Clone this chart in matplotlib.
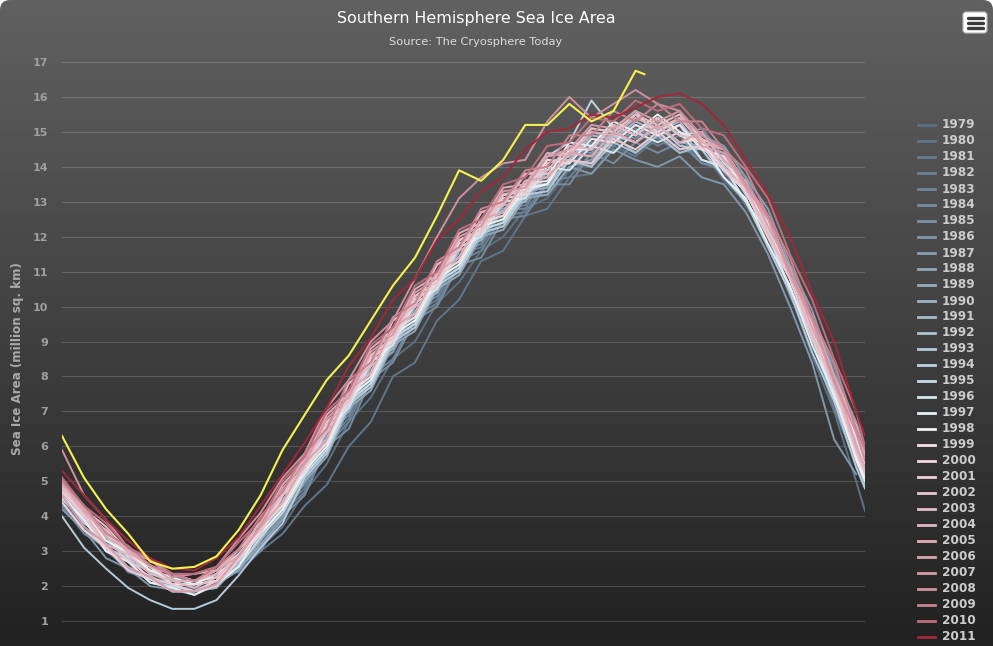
import numpy as np
import matplotlib
matplotlib.use("Agg")
import matplotlib.pyplot as plt
from matplotlib.colors import LinearSegmentedColormap
from matplotlib.lines import Line2D
from matplotlib.patches import FancyBboxPatch

nan = np.nan

# day of year for each sample (10-day steps)
DAYS = [0, 10, 20, 30, 40, 50, 60, 70, 80, 90,
        100, 110, 120, 130, 140, 150, 160, 170, 180, 190,
        200, 210, 220, 230, 240, 250, 260, 270, 280, 290,
        300, 310, 320, 330, 340, 350, 360, 364]
DAYS_2012 = [0, 10, 20, 30, 40, 50, 60, 70, 80, 90,
             100, 110, 120, 130, 140, 150, 160, 170, 180, 190,
             200, 210, 220, 230, 240, 250, 260, 264]

# sea ice area, million sq. km
AREA_1979 = [4.4, 3.7, 3.0, 2.5, 2.2, 1.95, 1.9, 2.05, 2.5, 3.1,
             3.7, 4.7, 5.5, 6.7, 7.4, 8.5, 9.0, 10.1, 10.7, 11.6,
             12.0, 12.8, 13.1, 13.9, 14.1, 14.6, 14.3, 14.8, 14.4, 14.5,
             13.6, 13.0, 11.7, 10.4, 8.6, 7.0, 5.0, 4.15]
AREA_1980 = [4.9, 4.2, 3.3, 3.0, 2.4, 2.3, 2.1, 2.3, 2.4, 3.0,
             3.5, 4.3, 4.9, 6.0, 6.7, 8.0, 8.4, 9.6, 10.2, 11.3,
             11.6, 12.6, 12.8, 13.7, 13.8, 14.6, 14.3, 14.9, 14.5, 14.6,
             13.8, 13.4, 12.0, 10.8, 9.1, 7.7, 5.7, 5.0]
AREA_1981 = [4.7, 3.8, 3.3, 2.7, 2.4, 2.0, 2.05, 2.1, 2.7, 3.1,
             4.2, 4.8, 6.1, 6.8, 8.1, 8.7, 9.8, 10.2, 11.5, 11.7,
             12.8, 12.9, 13.8, 13.9, 14.8, 14.7, 15.3, 14.9, 15.2, 14.6,
             14.3, 13.3, 12.4, 10.9, 9.5, 7.7, 6.3, 5.5]
AREA_1982 = [4.5, 3.6, 3.2, 2.5, 2.3, 1.95, 1.95, 2.0, 2.7, 3.1,
             4.1, 4.7, 6.0, 6.7, 8.0, 8.5, 9.7, 10.1, 11.3, 11.6,
             12.6, 12.7, 13.6, 13.7, 14.4, 14.4, 15.0, 14.6, 14.9, 14.1,
             13.9, 12.9, 12.0, 10.3, 9.0, 7.1, 5.5, 4.8]
AREA_1983 = [5.0, 4.1, 3.6, 2.9, 2.6, 2.15, 2.15, 2.25, 3.0, 3.3,
             4.3, 4.9, 6.3, 6.9, 8.2, 8.8, 9.9, 10.3, 11.5, 11.8,
             12.8, 12.8, 13.9, 13.9, 14.7, 14.6, 15.1, 14.8, 15.2, 14.6,
             14.4, 13.4, 12.6, 11.0, 9.7, 7.9, 6.4, 5.6]
AREA_1984 = [4.3, 3.5, 3.1, 2.4, 2.2, 1.85, 1.85, 1.95, 2.6, 3.0,
             4.0, 4.6, 6.0, 6.5, 7.9, 8.4, 9.6, 10.0, 11.2, 11.4,
             12.5, 12.6, 13.5, 13.5, 14.4, 14.1, 14.7, 14.4, 14.7, 14.1,
             14.0, 13.0, 12.1, 10.5, 9.2, 7.3, 5.8, 5.0]
AREA_1985 = [4.8, 4.1, 3.3, 2.9, 2.35, 2.15, 1.95, 2.3, 2.75, 3.7,
             4.4, 5.6, 6.2, 7.6, 8.1, 9.4, 9.8, 11.0, 11.4, 12.5,
             12.7, 13.6, 13.7, 14.5, 14.4, 15.1, 14.8, 15.3, 14.9, 15.1,
             14.3, 13.7, 12.4, 11.2, 9.6, 8.3, 6.4, 5.8]
AREA_1986 = [4.2, 3.6, 2.8, 2.5, 2.0, 1.9, 1.75, 2.05, 2.45, 3.3,
             4.0, 5.1, 5.8, 7.2, 7.7, 9.0, 9.4, 10.6, 11.0, 12.1,
             12.3, 13.2, 13.2, 14.0, 13.8, 14.5, 14.2, 14.0, 14.3, 13.7,
             13.5, 12.7, 11.5, 10.0, 8.4, 6.2, 5.2, nan]
AREA_1987 = [4.9, 4.0, 3.5, 2.8, 2.55, 2.15, 2.15, 2.25, 2.9, 3.4,
             4.5, 5.1, 6.4, 7.0, 8.3, 8.7, 10.0, 10.4, 11.6, 11.9,
             12.8, 13.0, 13.9, 14.1, 15.0, 14.8, 15.5, 15.0, 15.4, 14.9,
             14.6, 13.7, 12.8, 11.2, 9.9, 8.1, 6.7, 5.9]
AREA_1988 = [4.6, 3.9, 3.0, 2.7, 2.1, 1.95, 1.75, 2.05, 2.45, 3.2,
             3.9, 5.0, 5.7, 7.1, 7.6, 8.9, 9.3, 10.5, 10.9, 12.0,
             12.2, 13.1, 13.2, 14.0, 14.2, 14.9, 14.7, 15.1, 14.7, 14.6,
             13.9, 13.3, 12.0, 10.8, 9.1, 7.6, 5.7, 5.1]
AREA_1989 = [4.7, 4.0, 3.2, 2.9, 2.4, 2.2, 2.05, 2.35, 2.75, 3.5,
             4.1, 5.2, 5.9, 7.2, 7.8, 9.1, 9.5, 10.7, 11.1, 12.2,
             12.4, 13.3, 13.4, 14.2, 14.0, 14.9, 14.4, 15.0, 14.5, 14.7,
             14.0, 13.4, 12.1, 10.9, 9.2, 7.9, 6.0, 5.4]
AREA_1990 = [4.4, 3.6, 3.2, 2.5, 2.3, 1.85, 1.85, 1.95, 2.6, 3.3,
             4.4, 5.1, 6.4, 7.0, 8.3, 8.8, 10.0, 10.4, 11.6, 11.9,
             12.9, 13.0, 13.9, 14.1, 14.8, 14.7, 15.2, 14.9, 15.2, 14.2,
             14.0, 13.0, 12.1, 10.4, 9.1, 7.3, 5.7, 4.9]
AREA_1991 = [4.8, 3.9, 3.45, 2.8, 2.45, 2.05, 2.05, 2.15, 2.85, 3.6,
             4.7, 5.4, 6.7, 7.3, 8.6, 9.1, 10.3, 10.7, 11.9, 12.2,
             13.2, 13.3, 14.2, 14.2, 14.9, 14.8, 15.3, 15.0, 15.3, 14.5,
             14.3, 13.3, 12.4, 10.8, 9.5, 7.7, 6.1, 5.3]
AREA_1992 = [4.5, 3.9, 3.1, 2.8, 2.2, 2.05, 1.85, 2.15, 2.65, 3.6,
             4.3, 5.4, 6.1, 7.5, 8.0, 9.3, 9.7, 10.9, 11.3, 12.4,
             12.6, 13.5, 13.5, 14.2, 14.0, 14.7, 14.4, 14.9, 14.4, 14.6,
             13.9, 13.3, 12.0, 10.8, 9.1, 7.6, 5.7, 5.0]
AREA_1993 = [4.0, 3.1, 2.5, 1.95, 1.6, 1.35, 1.35, 1.6, 2.3, 3.1,
             3.8, 5.1, 5.8, 7.2, 7.7, 9.0, 9.4, 10.6, 11.0, 12.1,
             12.3, 13.2, 13.3, 14.2, 14.1, 14.9, 14.7, 15.2, 14.6, 14.5,
             13.7, 13.0, 11.7, 10.4, 8.7, 7.3, 5.4, 4.8]
AREA_1994 = [4.6, 3.8, 3.4, 2.7, 2.45, 2.05, 2.05, 2.15, 2.85, 3.5,
             4.6, 5.3, 6.6, 7.2, 8.5, 9.0, 10.2, 10.6, 11.8, 12.2,
             13.2, 13.4, 14.3, 14.7, 15.9, 15.1, 15.6, 14.9, 15.2, 14.5,
             14.2, 13.2, 12.4, 10.8, 9.5, 7.7, 6.2, 5.4]
AREA_1995 = [4.5, 3.9, 3.0, 2.7, 2.1, 2.0, 1.85, 2.15, 2.55, 3.4,
             4.1, 5.2, 5.9, 7.3, 7.8, 9.1, 9.5, 10.7, 11.1, 12.2,
             12.4, 13.3, 13.5, 14.5, 14.5, 15.2, 14.9, 15.4, 14.9, 15.0,
             14.1, 13.5, 12.2, 11.0, 9.3, 7.8, 5.9, 5.3]
AREA_1996 = [4.8, 4.0, 3.5, 2.85, 2.55, 2.15, 2.15, 2.25, 2.9, 3.5,
             4.6, 5.2, 6.5, 7.1, 8.4, 8.9, 10.1, 10.5, 11.7, 12.0,
             13.0, 13.1, 14.0, 13.9, 14.6, 14.4, 15.0, 14.7, 15.0, 14.2,
             14.0, 13.0, 12.1, 10.5, 9.2, 7.4, 6.0, 5.2]
AREA_1997 = [4.6, 3.9, 3.0, 2.7, 2.1, 1.95, 1.75, 2.05, 2.55, 3.6,
             4.4, 5.5, 6.2, 7.6, 8.1, 9.4, 9.8, 11.0, 11.4, 12.5,
             12.7, 13.6, 13.7, 14.7, 14.6, 15.3, 15.0, 15.5, 15.0, 14.7,
             13.7, 13.1, 11.8, 10.6, 8.9, 7.5, 5.6, 5.0]
AREA_1998 = [4.7, 4.1, 3.3, 2.95, 2.45, 2.25, 2.05, 2.35, 2.75, 3.5,
             4.2, 5.3, 6.0, 7.4, 7.9, 9.2, 9.6, 10.8, 11.2, 12.3,
             12.5, 13.4, 13.5, 14.5, 14.5, 15.2, 14.9, 15.4, 14.9, 14.7,
             13.9, 13.3, 12.0, 10.8, 9.1, 7.7, 5.7, 5.1]
AREA_1999 = [4.9, 4.0, 3.6, 2.9, 2.55, 2.05, 2.05, 2.15, 2.85, 3.6,
             4.7, 5.4, 6.7, 7.3, 8.6, 9.1, 10.3, 10.7, 11.9, 12.2,
             13.2, 13.3, 14.2, 14.1, 14.8, 14.7, 15.2, 14.9, 15.2, 14.5,
             14.3, 13.3, 12.4, 10.8, 9.5, 7.8, 6.3, 5.5]
AREA_2000 = [5.0, 4.3, 3.5, 3.05, 2.55, 2.35, 2.15, 2.45, 2.9, 3.7,
             4.3, 5.4, 6.1, 7.5, 8.0, 9.3, 9.7, 10.9, 11.3, 12.4,
             12.6, 13.5, 13.6, 14.4, 14.3, 15.0, 14.7, 15.2, 14.7, 14.8,
             14.0, 13.4, 12.1, 10.9, 9.2, 7.8, 5.9, 5.3]
AREA_2001 = [4.4, 3.6, 3.1, 2.45, 2.2, 1.85, 1.85, 2.0, 2.75, 3.5,
             4.6, 5.3, 6.6, 7.2, 8.5, 9.0, 10.2, 10.6, 11.8, 12.1,
             13.1, 13.2, 14.1, 14.3, 15.1, 15.0, 15.5, 15.0, 15.4, 14.7,
             14.5, 13.5, 12.6, 11.0, 9.7, 7.9, 6.4, 5.6]
AREA_2002 = [4.7, 4.0, 3.1, 2.75, 2.25, 2.05, 1.85, 2.15, 2.75, 3.9,
             4.6, 5.7, 6.4, 7.8, 8.3, 9.6, 10.0, 11.2, 11.6, 12.7,
             12.9, 13.8, 13.8, 14.2, 14.1, 14.8, 14.5, 15.0, 14.5, 14.6,
             13.9, 13.3, 12.0, 10.8, 9.1, 7.7, 5.8, 5.2]
AREA_2003 = [5.1, 4.2, 3.7, 3.0, 2.75, 2.35, 2.35, 2.45, 3.05, 3.6,
             4.7, 5.4, 6.7, 7.3, 8.6, 9.1, 10.3, 10.7, 11.9, 12.2,
             13.2, 13.3, 14.3, 14.4, 15.1, 15.0, 15.5, 15.2, 15.5, 14.8,
             14.5, 13.5, 12.6, 11.0, 9.7, 8.0, 6.5, 5.7]
AREA_2004 = [4.8, 4.1, 3.2, 2.9, 2.35, 2.15, 1.95, 2.25, 2.85, 3.9,
             4.6, 5.7, 6.4, 7.8, 8.3, 9.6, 10.0, 11.2, 11.6, 12.7,
             12.9, 13.8, 13.9, 14.6, 14.5, 15.2, 14.9, 15.4, 14.9, 14.8,
             14.0, 13.4, 12.1, 10.9, 9.2, 7.8, 5.9, 5.3]
AREA_2005 = [5.0, 4.1, 3.6, 2.95, 2.6, 2.15, 2.15, 2.35, 3.05, 3.8,
             4.9, 5.6, 6.9, 7.5, 8.8, 9.3, 10.5, 10.9, 12.1, 12.4,
             13.4, 13.5, 14.4, 14.3, 15.0, 14.9, 15.4, 15.1, 15.4, 14.7,
             14.5, 13.5, 12.6, 11.0, 9.7, 8.0, 6.6, 5.8]
AREA_2006 = [4.9, 4.2, 3.4, 3.05, 2.55, 2.35, 2.15, 2.45, 2.85, 3.7,
             4.4, 5.5, 6.2, 7.6, 8.1, 9.4, 9.8, 11.0, 11.4, 12.5,
             12.7, 13.6, 13.7, 14.4, 14.3, 15.0, 14.7, 15.2, 14.7, 15.0,
             14.2, 13.6, 12.3, 11.1, 9.4, 8.0, 6.0, 5.4]
AREA_2007 = [4.6, 3.7, 3.2, 2.55, 2.25, 1.85, 1.85, 2.05, 2.85, 3.7,
             4.8, 5.5, 6.8, 7.4, 8.7, 9.2, 10.4, 10.8, 12.0, 12.3,
             13.3, 13.4, 14.3, 14.5, 15.2, 15.1, 15.6, 15.3, 15.6, 14.6,
             14.4, 13.4, 12.5, 10.9, 9.6, 7.8, 6.4, 5.6]
AREA_2008 = [5.9, 4.6, 3.9, 3.1, 2.75, 2.25, 2.35, 2.55, 3.35, 4.1,
             5.1, 5.8, 7.1, 7.9, 9.0, 9.6, 10.8, 12.0, 13.1, 13.7,
             14.1, 14.2, 15.3, 16.0, 15.4, 15.8, 16.2, 15.8, 15.6, 14.9,
             14.5, 13.5, 12.6, 11.0, 9.7, 7.9, 6.4, 5.6]
AREA_2009 = [5.0, 4.3, 3.5, 3.15, 2.6, 2.35, 2.15, 2.55, 3.05, 4.0,
             4.7, 5.8, 6.5, 7.9, 8.4, 9.7, 10.1, 11.3, 11.7, 12.8,
             13.0, 13.9, 14.0, 14.9, 14.9, 15.6, 15.3, 15.8, 15.3, 15.3,
             14.5, 13.9, 12.6, 11.4, 9.7, 8.4, 6.5, 5.9]
AREA_2010 = [5.1, 4.3, 3.8, 3.1, 2.8, 2.35, 2.35, 2.55, 3.25, 3.9,
             5.0, 5.7, 7.0, 7.6, 8.9, 9.4, 10.6, 11.0, 12.2, 12.5,
             13.5, 13.7, 14.6, 14.7, 15.4, 15.3, 15.9, 15.6, 15.8, 15.1,
             14.9, 14.0, 13.1, 11.5, 10.2, 8.5, 7.0, 6.0]
AREA_2011 = [5.3, 4.6, 3.9, 3.3, 2.8, 2.5, 2.45, 2.8, 3.4, 4.3,
             5.2, 6.1, 7.1, 8.3, 9.1, 10.2, 10.8, 11.9, 12.5, 13.3,
             13.7, 14.5, 15.0, 15.1, 15.5, 15.4, 15.7, 16.0, 16.1, 15.8,
             15.2, 14.2, 13.2, 12.0, 10.4, 9.0, 7.0, 6.3]
AREA_2012 = [6.3, 5.1, 4.2, 3.5, 2.7, 2.5, 2.55, 2.85, 3.6, 4.6,
             5.9, 6.9, 7.9, 8.6, 9.6, 10.6, 11.4, 12.6, 13.9, 13.6,
             14.2, 15.2, 15.2, 15.8, 15.3, 15.6, 16.75, 16.65]

YEARS = list(range(1979, 2012))
SERIES = [AREA_1979, AREA_1980, AREA_1981, AREA_1982, AREA_1983, AREA_1984,
          AREA_1985, AREA_1986, AREA_1987, AREA_1988, AREA_1989, AREA_1990,
          AREA_1991, AREA_1992, AREA_1993, AREA_1994, AREA_1995, AREA_1996,
          AREA_1997, AREA_1998, AREA_1999, AREA_2000, AREA_2001, AREA_2002,
          AREA_2003, AREA_2004, AREA_2005, AREA_2006, AREA_2007, AREA_2008,
          AREA_2009, AREA_2010, AREA_2011]
for s in SERIES:
    assert len(s) == len(DAYS), len(s)
assert len(AREA_2012) == len(DAYS_2012)

W, H = 993, 646

# blue-grey -> white -> pink -> crimson
year_cmap = LinearSegmentedColormap.from_list("years", [
    (0.0, "#5b7185"), (0.2, "#7d93a7"), (0.35, "#9fb5c6"), (0.5, "#c5dae6"),
    (0.56, "#e2f0f4"), (0.59, "#eef8f2"), (0.625, "#f5e2e6"), (0.8, "#e3b3bd"),
    (0.9, "#d396a3"), (0.97, "#c07483"), (1.0, "#a3263a"),
])
colors = [year_cmap(i / (len(YEARS) - 1)) for i in range(len(YEARS))]
yellow = "#f4f250"

fig = plt.figure(figsize=(W / 100, H / 100), dpi=100, facecolor="white")

# chart background: vertical grey gradient inside a rounded box
bg = fig.add_axes([0, 0, 1, 1])
bg.set_xlim(0, W)
bg.set_ylim(H, 0)
bg.axis("off")
grad_cmap = LinearSegmentedColormap.from_list("bg", ["#616161", "#212121"])
im = bg.imshow(np.linspace(0, 1, 256)[:, None], cmap=grad_cmap, aspect="auto",
               extent=(0, W, H, 0), zorder=0)
frame = FancyBboxPatch((0, 0), W, H + 40, boxstyle="round,pad=0,rounding_size=10",
                       transform=bg.transData, facecolor="none", edgecolor="none")
bg.add_patch(frame)
im.set_clip_path(frame)

# export menu button
bg.add_patch(FancyBboxPatch((963, 12), 24, 21, boxstyle="round,pad=0,rounding_size=3",
                            facecolor="white", edgecolor="#bbbbbb", lw=0.8))
for yb in (18, 22.8, 27.6):
    bg.plot([967.5, 982.5], [yb, yb], color="#3a3a3a", lw=2.4, solid_capstyle="round")

# plot area
top_px = 52
ax = fig.add_axes([62 / W, 0, (865 - 62) / W, (H - top_px) / H])
ax.set_facecolor("none")
ax.set_xlim(0, 364)
ax.set_ylim((656 - H) / 34.94, (656 - top_px) / 34.94)
for sp in ax.spines.values():
    sp.set_visible(False)
ax.set_xticks([])
ax.set_yticks(range(1, 18))
ax.yaxis.grid(True, color="white", alpha=0.17, lw=0.8)
ax.set_axisbelow(True)
ax.tick_params(axis="y", length=0, pad=10, labelcolor="#a0a0a0", labelsize=8)
for lab in ax.get_yticklabels():
    lab.set_fontweight("bold")

for values, color in zip(SERIES, colors):
    ax.plot(DAYS, values, color=color, lw=1.4, solid_joinstyle="round")
ax.plot(DAYS_2012, AREA_2012, color=yellow, lw=1.5, solid_joinstyle="round")

# titles
fig.text(476 / W, 1 - 18 / H, "Southern Hemisphere Sea Ice Area", ha="center",
         va="center", color="white", fontsize=11.4)
fig.text(476 / W, 1 - 42 / H, "Source: The Cryosphere Today", ha="center",
         va="center", color="#dddddd", fontsize=8.2)
fig.text(18 / W, 1 - 359 / H, "Sea Ice Area (million sq. km)", ha="center",
         va="center", rotation=90, color="#aaaaaa", fontsize=8.6, fontweight="bold")

# legend, one row per year (2012 falls below the visible area)
for i, year in enumerate(YEARS):
    y = 1 - (125 + 16 * i) / H
    fig.add_artist(Line2D([918 / W, 935 / W], [y, y], color=colors[i], lw=2))
    fig.text(942 / W, y, str(year), va="center", ha="left", color="#cccccc",
             fontsize=8.7, fontweight="bold")

fig.savefig("out.png", dpi=100)
